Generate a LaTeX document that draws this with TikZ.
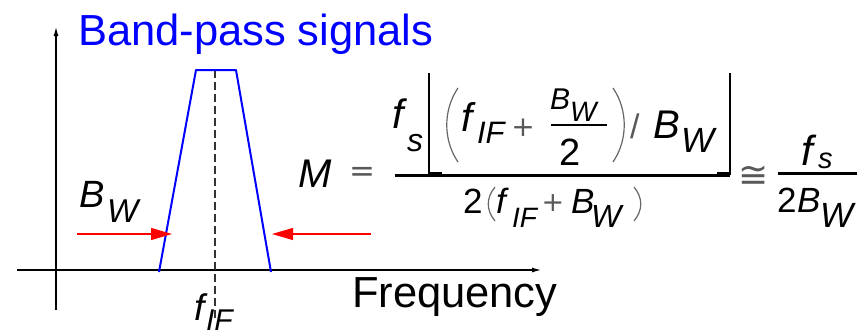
\documentclass[tikz,border=0pt]{standalone}
\usepackage{fontspec}
\setmainfont{Liberation Sans}
\newfontfamily\symfont{DejaVu Sans}
\usetikzlibrary{arrows.meta}
\newcommand\fsz[1]{\fontsize{#1}{#1}\selectfont}
\begin{document}
\begin{tikzpicture}[x=1pt,y=-1pt,
  t/.style={anchor=base west, inner sep=0pt, outer sep=0pt},
  c/.style={anchor=center, inner sep=0pt, outer sep=0pt},
  sym/.style={c, text=black!65},
  ax/.style={line width=1.1pt, -{Latex[length=9pt,width=5pt]}},
  band/.style={draw=blue, line width=2pt, line join=round},
  cline/.style={draw=black!80, line width=1.3pt, dash pattern=on 8pt off 4pt},
  rarr/.style={draw=red, line width=1.2pt, -{Triangle[length=21pt,width=12pt]}},
  fbar/.style={line width=3pt},
  floorv/.style={line width=1.2pt},
  floorf/.style={line width=4.5pt},
  paren/.style={draw=black!60, line width=1.2pt},
]
\useasboundingbox[fill=white] (0,0) rectangle (865,332);

% axes
\coordinate (yb) at (56,310); \coordinate (yt) at (56,27);
\coordinate (xl) at (17,270); \coordinate (xr) at (541,270);
\draw[ax] (yb) -- (yt);
\draw[ax] (xl) -- (xr);

% centre line and band
\coordinate (ct) at (215,70); \coordinate (cb) at (215,318);
\draw[cline] (ct) -- (cb);
\coordinate (p1) at (159,272); \coordinate (p2) at (196,70);
\coordinate (p3) at (236,70);  \coordinate (p4) at (271,272);
\draw[band] (p1) -- (p2) -- (p3) -- (p4);

% red arrows
\coordinate (la) at (77,234); \coordinate (lb) at (172,234);
\coordinate (ra) at (371,234); \coordinate (rb) at (272,234);
\draw[rarr] (la) -- (lb);
\draw[rarr] (ra) -- (rb);

% texts of the plot
\node[t,font=\fsz{43.5},text=blue] (title) at (78,45) {Band-pass signals};
\node[t,font=\fsz{43.5}] (freq) at (352,307) {Frequency};
\node[t,font={\fsz{38}\itshape}] (bwB) at (79,207) {B};
\node[t,font={\fsz{33}\itshape}] (bwW) at (107,222) {W};
\node[t,font={\fsz{37}\itshape}] (fifF) at (194,320) {f};
\node[t,font={\fsz{30}\itshape}] (fifIF) at (206,330) {IF};

% formula: M =
\node[t,font={\fsz{40}\itshape}] (M) at (298,187) {M};
\node[sym,font={\symfont\fsz{31}}] (eq) at (362,174) {=};

% main fraction bar and floor brackets
\coordinate (fl) at (395,175); \coordinate (fr) at (730,175);
\draw[fbar] (fl) -- (fr);
\coordinate (lft) at (429,73); \coordinate (lfb) at (429,175);
\coordinate (lff) at (442,174.5); \coordinate (lfb2) at (429,174.5);
\draw[floorv] (lft) -- (lfb);
\draw[floorf] (lfb2) -- (lff);
\coordinate (rgt) at (730,73); \coordinate (rgb) at (730,175);
\coordinate (rgf) at (717,174.5); \coordinate (rgb2) at (730,174.5);
\draw[floorv] (rgt) -- (rgb);
\draw[floorf] (rgf) -- (rgb2);

% numerator
\node[t,font={\fsz{41}\itshape}] (nfs) at (392,128) {f};
\node[t,font={\fsz{32}\itshape}] (nfss) at (407,151) {s};
\coordinate (lp1) at (458,88); \coordinate (lp2) at (458,162);
\draw[paren] (lp1) .. controls (443,110) and (443,140) .. (lp2);
\node[t,font={\fsz{40}\itshape}] (nf) at (461,131) {f};
\node[t,font={\fsz{31}\itshape}] (nif) at (477,143) {IF};
\node[sym,font={\symfont\fsz{28}}] (np) at (523,128) {+};
\node[t,font={\fsz{30}\itshape}] (ibB) at (550,109) {B};
\node[t,font={\fsz{28}\itshape}] (ibW) at (570,121) {W};
\coordinate (ibl) at (551,125); \coordinate (ibr) at (607,125);
\draw[line width=2.5pt] (ibl) -- (ibr);
\node[t,font=\fsz{38}] (i2) at (559,165) {2};
\coordinate (rp1) at (613,88); \coordinate (rp2) at (613,162);
\draw[paren] (rp1) .. controls (628,110) and (628,140) .. (rp2);
\node[t,font=\fsz{34},text=black!65] (sl) at (630,138) {/};
\node[t,font={\fsz{40}\itshape}] (nB) at (653,138) {B};
\node[t,font={\fsz{35}\itshape}] (nW) at (681,152) {W};

% denominator
\node[t,font=\fsz{35}] (d2) at (463,213) {2};
\coordinate (dl1) at (495,187); \coordinate (dl2) at (495,221);
\draw[paren] (dl1) .. controls (486,198) and (486,210) .. (dl2);
\node[t,font={\fsz{35}\itshape}] (df) at (496,213) {f};
\node[t,font={\fsz{28}\itshape}] (dif) at (512,227) {IF};
\node[sym,font={\symfont\fsz{27}}] (dp) at (553,203) {+};
\node[t,font={\fsz{35}\itshape}] (dB) at (571,213) {B};
\node[t,font={\fsz{32}\itshape}] (dW) at (591,227) {W};
\coordinate (dr1) at (634,187); \coordinate (dr2) at (634,221);
\draw[paren] (dr1) .. controls (643,198) and (643,210) .. (dr2);

% approx
\node[sym,font={\symfont\fsz{36}}] (cong) at (754,177) {≅};

% right fraction
\node[t,font={\fsz{42}\itshape}] (rf) at (801,165) {f};
\node[t,font={\fsz{29}\itshape}] (rs) at (818,168) {s};
\coordinate (rbl) at (778,173); \coordinate (rbr) at (857,173);
\draw[fbar] (rbl) -- (rbr);
\node[t,font=\fsz{35}] (r2) at (777,212) {2};
\node[t,font={\fsz{35}\itshape}] (rB) at (797,212) {B};
\node[t,font={\fsz{35}\itshape}] (rW) at (820,227) {W};
\end{tikzpicture}
\end{document}
